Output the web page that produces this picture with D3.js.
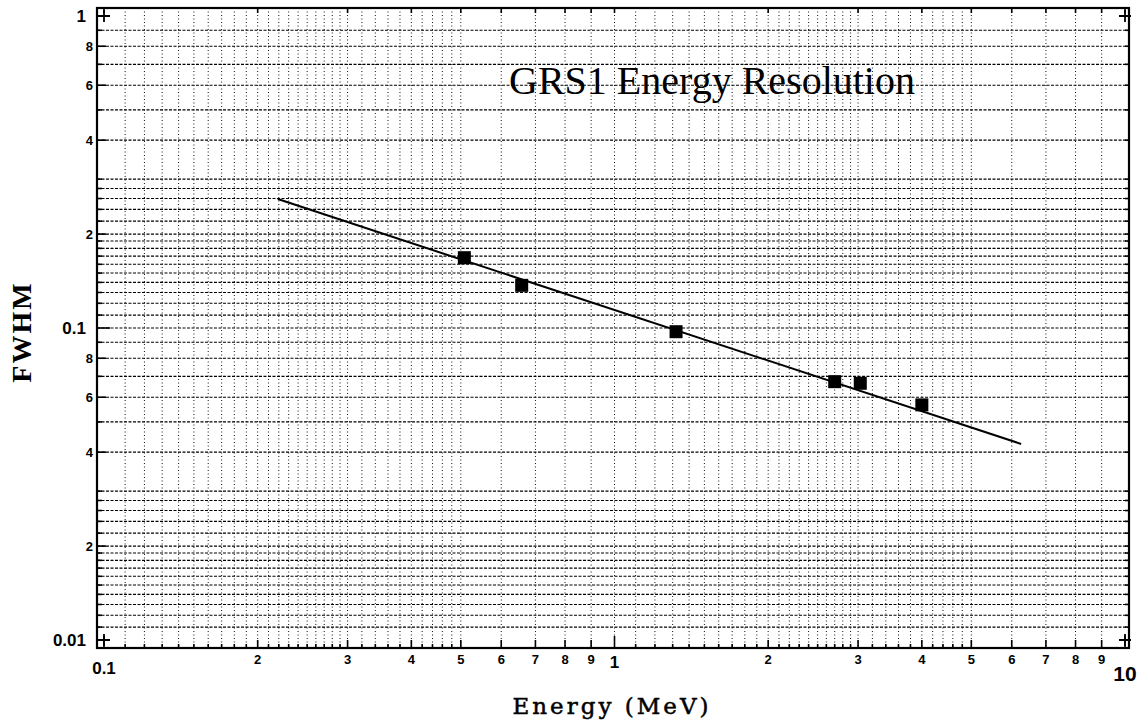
<!DOCTYPE html>
<html>
<head>
<meta charset="utf-8">
<script src="https://cdnjs.cloudflare.com/ajax/libs/d3/7.8.5/d3.min.js"></script>
<style>
  body { margin: 0; background: #fff; }
  svg { display: block; }
</style>
</head>
<body>
<script>
const width = 1141,
  height = 728;

// frame of the graph paper and where the scale decades fall
const frame = { left: 97, right: 1129, top: 8, bottom: 648 };

// measured points (MeV, fractional FWHM)
const energy = [0.508, 0.658, 1.32, 2.7, 3.03, 4.0];
const fwhm = [0.168, 0.137, 0.0973, 0.0673, 0.0665, 0.0567];

// fitted power law, drawn between its two end points
const fitEnergy = [0.219, 6.26];
const fitFwhm = [0.259, 0.0425];

// graph paper rulings inside one decade
const xMantissas = [1, 1.1, 1.2, 1.3, 1.4, 1.5, 1.6, 1.7, 1.8, 1.9,
  2, 2.1, 2.2, 2.3, 2.4, 2.5, 2.6, 2.7, 2.8, 2.9,
  3, 3.2, 3.4, 3.6, 3.8, 4, 4.2, 4.4, 4.6, 4.8, 5, 6, 7, 8, 9];
const yMantissas = [1, 1.1, 1.2, 1.3, 1.4, 1.5, 1.6, 1.7, 1.8, 1.9,
  2, 2.2, 2.4, 2.6, 2.8, 3, 4, 5, 6, 7, 8, 9];
const xDecades = [0.1, 1];
const yDecades = [0.01, 0.1];

// tick labels
const xLabelValues = [0.1, 0.2, 0.3, 0.4, 0.5, 0.6, 0.7, 0.8, 0.9, 1, 2, 3, 4, 5, 6, 7, 8, 9, 10];
const xLabels = ["0.1", "2", "3", "4", "5", "6", "7", "8", "9", "1", "2", "3", "4", "5", "6", "7", "8", "9", "10"];
const yLabelValues = [0.01, 0.02, 0.04, 0.06, 0.08, 0.1, 0.2, 0.4, 0.6, 0.8, 1];
const yLabels = ["0.01", "2", "4", "6", "8", "0.1", "2", "4", "6", "8", "1"];
const majorX = [0.1, 1, 10];
const majorY = [0.01, 0.1, 1];

const xTicks = xDecades.flatMap(d => xMantissas.map(m => +(m * d).toPrecision(3))).concat([10]);
const yTicks = yDecades.flatMap(d => yMantissas.map(m => +(m * d).toPrecision(3))).concat([1]);

const isMajor = (arr, v) => arr.some(a => Math.abs(a - v) / a < 1e-6);

const xScale = d3.scaleLog().domain([0.1, 10]).range([104, 1125]);
const yScale = d3.scaleLog().domain([0.01, 1]).range([640, 16]);

const svg = d3
  .select("body")
  .append("svg")
  .attr("width", width)
  .attr("height", height);

// grid: horizontal dashed rulings, vertical dotted rulings
svg.append("g")
  .attr("class", "vgrid")
  .selectAll("line")
  .data(xTicks.filter(v => v > 0.1 && v < 10))
  .enter()
  .append("line")
  .attr("x1", d => xScale(d))
  .attr("x2", d => xScale(d))
  .attr("y1", frame.top)
  .attr("y2", frame.bottom)
  .attr("stroke", "#111")
  .attr("stroke-width", 1)
  .attr("stroke-dasharray", "1,2.5");

svg.append("g")
  .attr("class", "hgrid")
  .selectAll("line")
  .data(yTicks.filter(v => v > 0.01 && v < 1))
  .enter()
  .append("line")
  .attr("x1", frame.left)
  .attr("x2", frame.right)
  .attr("y1", d => yScale(d))
  .attr("y2", d => yScale(d))
  .attr("stroke", "#000")
  .attr("stroke-width", 1.1)
  .attr("stroke-dasharray", "3,1.5");

// tick length depends on whether the value is labelled
const xTickLen = d => (isMajor(majorX, d) ? 12 : isMajor(xLabelValues, d) ? 8 : 4);
const yTickLen = d => (isMajor(majorY, d) ? 13 : isMajor(yLabelValues, d) ? 9 : 5);

const tickG = svg.append("g").attr("stroke", "#000").attr("stroke-width", 1.6);

tickG.selectAll(".bt")
  .data(xTicks)
  .enter()
  .append("line")
  .attr("x1", d => xScale(d))
  .attr("x2", d => xScale(d))
  .attr("y1", frame.bottom)
  .attr("y2", d => frame.bottom - xTickLen(d));

tickG.selectAll(".tt")
  .data(xLabelValues)
  .enter()
  .append("line")
  .attr("x1", d => xScale(d))
  .attr("x2", d => xScale(d))
  .attr("y1", frame.top)
  .attr("y2", frame.top + 5);

tickG.selectAll(".lt")
  .data(yTicks)
  .enter()
  .append("line")
  .attr("x1", frame.left)
  .attr("x2", d => frame.left + yTickLen(d))
  .attr("y1", d => yScale(d))
  .attr("y2", d => yScale(d));

tickG.selectAll(".rt")
  .data(yTicks)
  .enter()
  .append("line")
  .attr("x1", frame.right)
  .attr("x2", frame.right - 4)
  .attr("y1", d => yScale(d))
  .attr("y2", d => yScale(d));

// registration crosses at the corners of the scales
const corners = [[0.1, 1], [10, 1], [0.1, 0.01], [10, 0.01]];
svg.append("g")
  .selectAll("path")
  .data(corners)
  .enter()
  .append("path")
  .attr("d", d => {
    const cx = xScale(d[0]), cy = yScale(d[1]);
    return `M${cx - 6},${cy}H${cx + 6}M${cx},${cy - 6}V${cy + 6}`;
  })
  .attr("stroke", "#000")
  .attr("stroke-width", 1.8);

// frame
svg.append("rect")
  .attr("x", frame.left)
  .attr("y", frame.top)
  .attr("width", frame.right - frame.left)
  .attr("height", frame.bottom - frame.top)
  .attr("fill", "none")
  .attr("stroke", "#000")
  .attr("stroke-width", 2.2);

// fit line
const line = d3.line()
  .x(d => xScale(d[0]))
  .y(d => yScale(d[1]));

svg.append("path")
  .datum(fitEnergy.map((e, i) => [e, fitFwhm[i]]))
  .attr("d", line)
  .attr("fill", "none")
  .attr("stroke", "#000")
  .attr("stroke-width", 2);

// data squares
const sq = 13;
svg.append("g")
  .selectAll("rect")
  .data(energy.map((e, i) => [e, fwhm[i]]))
  .enter()
  .append("rect")
  .attr("x", d => xScale(d[0]) - sq / 2)
  .attr("y", d => yScale(d[1]) - sq / 2)
  .attr("width", sq)
  .attr("height", sq)
  .attr("fill", "#000");

// x tick labels
svg.append("g")
  .selectAll("text")
  .data(xLabelValues)
  .enter()
  .append("text")
  .attr("x", d => xScale(d))
  .attr("y", d => (d === 10 ? 681 : d === 0.1 ? 674 : d === 1 ? 668 : 664))
  .attr("text-anchor", "middle")
  .attr("font-family", "Liberation Sans, Arial, sans-serif")
  .attr("font-weight", "bold")
  .attr("font-size", d => (d === 10 ? 21 : isMajor(majorX, d) ? 17 : 13))
  .text((d, i) => xLabels[i]);

// y tick labels
svg.append("g")
  .selectAll("text")
  .data(yLabelValues)
  .enter()
  .append("text")
  .attr("x", d => (isMajor(majorY, d) ? 86 : 93))
  .attr("y", d => yScale(d) + (isMajor(majorY, d) ? 6 : 4.5))
  .attr("text-anchor", "end")
  .attr("font-family", "Liberation Sans, Arial, sans-serif")
  .attr("font-weight", "bold")
  .attr("font-size", d => (isMajor(majorY, d) ? 17 : 13))
  .text((d, i) => yLabels[i]);

// title
svg.append("text")
  .attr("x", 712)
  .attr("y", 94)
  .attr("text-anchor", "middle")
  .attr("font-family", "Liberation Serif, Times New Roman, serif")
  .attr("font-size", 40)
  .text("GRS1 Energy Resolution");

// axis titles
svg.append("text")
  .attr("x", 612)
  .attr("y", 714)
  .attr("text-anchor", "middle")
  .attr("font-family", "DejaVu Serif, serif")
  .attr("font-size", 23)
  .attr("letter-spacing", 3)
  .attr("stroke", "#000")
  .attr("stroke-width", 0.5)
  .text("Energy (MeV)");

svg.append("text")
  .attr("transform", "translate(31,332) rotate(-90)")
  .attr("text-anchor", "middle")
  .attr("font-family", "Liberation Serif, Times New Roman, serif")
  .attr("font-weight", "bold")
  .attr("font-size", 28)
  .attr("letter-spacing", 2)
  .text("FWHM");
</script>
</body>
</html>
